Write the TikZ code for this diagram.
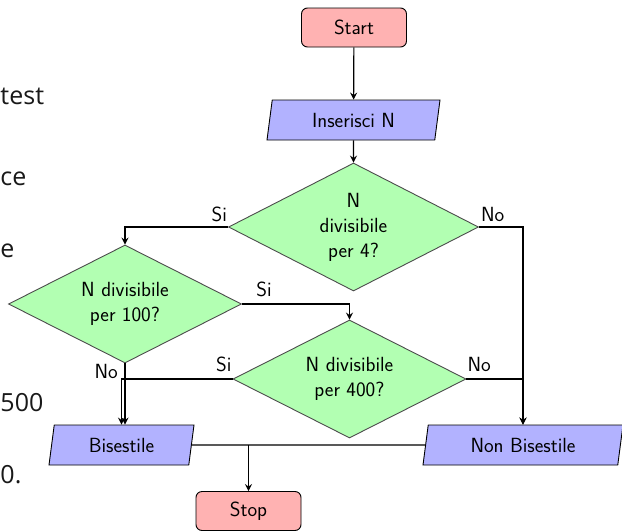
\documentclass[tikz,border=0pt]{standalone}
\usepackage{fontspec}
\newfontfamily\bgfont{Open Sans}
\usetikzlibrary{shapes.geometric,arrows.meta,calc}
\begin{document}
\begin{tikzpicture}[x=1pt,y=-1pt,
  every node/.style={font=\sffamily\fontsize{20.5}{25}\selectfont},
  startstop/.style={rectangle, rounded corners=6pt, draw=black, line width=0.9pt, fill=red!30, minimum width=105pt, minimum height=39pt, inner sep=0pt},
  iobox/.style={trapezium, trapezium left angle=70, trapezium right angle=110, trapezium stretches body, draw=black, line width=0.9pt, fill=blue!30, minimum height=40pt, inner sep=0pt},
  decision/.style={diamond, shape aspect=2, draw=black!70, line width=0.9pt, fill=green!30, inner sep=0pt, align=center},
  conn/.style={line width=1.2pt, draw=black},
  arr/.style={conn, -{Stealth[length=7pt,width=7pt,inset=2.5pt]}},
  lbl/.style={inner sep=0pt},
  bgtext/.style={font=\bgfont\fontsize{25}{30}\selectfont, text=black!90, inner sep=0pt, anchor=base west}
]
\fill[white] (0,0) rectangle (622,531);
\useasboundingbox (0,0) rectangle (622,531);

% partial background text
\node[bgtext] (t1) at (0.3,104) {test};
\node[bgtext] (t2) at (0.3,185) {ce};
\node[bgtext] (t3) at (0.3,257) {e};
\node[bgtext] (t4) at (0.3,411) {500};
\node[bgtext] (t5) at (0.3,483) {0.};

% nodes
\node[startstop] (start) at (354,27.5) {Start};
\node[iobox, minimum width=173pt] (ins) at (353.5,120) {Inserisci N};
\node[decision, minimum width=250pt, minimum height=128pt] (d1) at (353.5,227) {N\\divisibile\\per 4?};
\node[decision, minimum width=233pt, minimum height=118pt] (d2) at (125,304) {N divisibile\\per 100?};
\node[decision, minimum width=233pt, minimum height=118pt] (d3) at (349.5,379) {N divisibile\\per 400?};
\node[iobox, minimum width=145pt] (bis) at (121.5,445) {Bisestile};
\node[iobox, minimum width=200pt] (nbis) at (523,445) {Non Bisestile};
\node[startstop] (stop) at (248.5,511) {Stop};

% connectors
\draw[arr] (start) -- (ins);
\draw[arr] (ins) -- (d1);
\draw[arr] (d1.west) -| (d2.north);
\draw[arr] (d1.east) -| (nbis.north);
\draw[arr] (d2.east) -| (d3.north);
\draw[arr] (d2.south) -- (d2.south |- bis.north);
\draw[arr] (d3.west) -| (bis.north);
\draw[arr] (d3.east) -| (nbis.north);
\draw[conn] (bis) -- (nbis);
\coordinate (split) at (stop |- bis);
\draw[arr] (split) -- (stop);

% labels
\node[lbl, anchor=south east] (l1) at ($(d1.west)+(-1,-5)$) {Si};
\node[lbl, anchor=south west] (l2) at ($(d1.east)+(2,-5)$) {No};
\node[lbl, anchor=south] (l3) at ($(d2.east)+(22,-7)$) {Si};
\node[lbl, anchor=north east] (l4) at ($(d2.south)+(-7,1)$) {No};
\node[lbl, anchor=south east] (l5) at ($(d3.west)+(-1,-7)$) {Si};
\node[lbl, anchor=south west] (l6) at ($(d3.east)+(1,-7)$) {No};
\end{tikzpicture}
\end{document}
